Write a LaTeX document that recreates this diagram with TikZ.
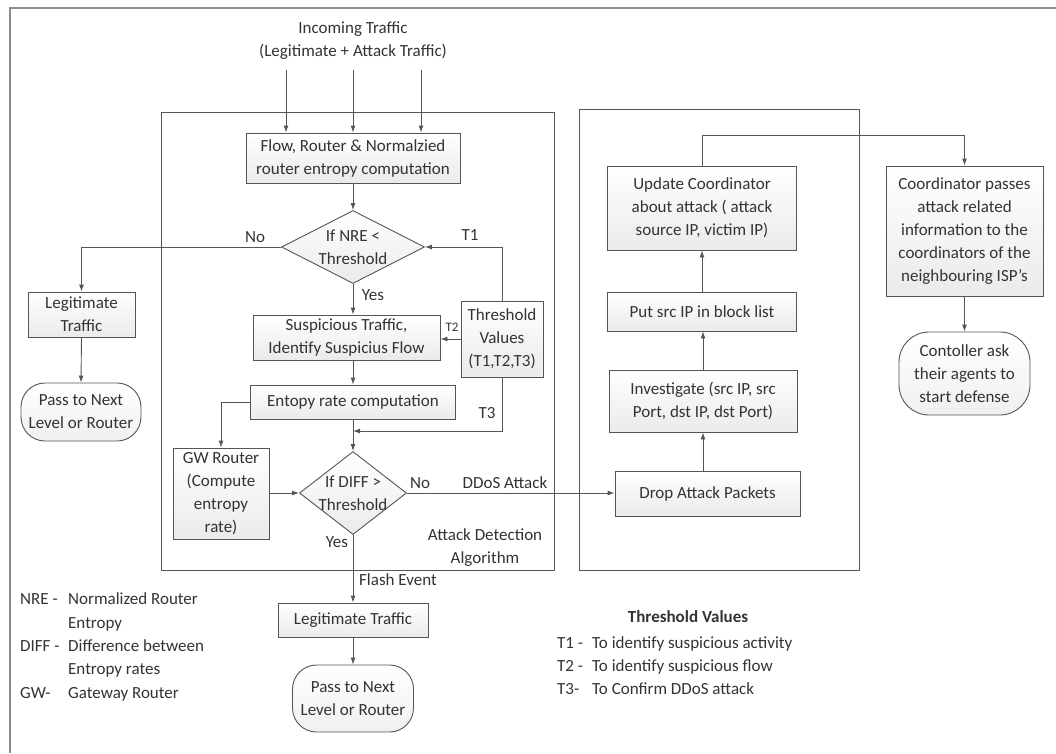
\documentclass[tikz,border=0pt]{standalone}
\usepackage{fontspec}
\setmainfont{Carlito}
\usetikzlibrary{arrows.meta,shapes.geometric,calc}
\definecolor{linec}{HTML}{555555}
\definecolor{txtc}{HTML}{333333}
\definecolor{framec}{HTML}{8C8C8C}
\newcommand{\mainfs}{\fontsize{17}{23}\selectfont}
\newcommand{\smallfs}{\fontsize{13}{15}\selectfont}
\tikzset{
  procbox/.style={draw=linec, line width=0.9pt, top color=white, bottom color=gray!16,
    align=center, inner sep=1pt, font=\mainfs, text=txtc},
  decbox/.style={draw=linec, line width=0.9pt, diamond, top color=white, bottom color=gray!16,
    inner sep=0pt},
  dectext/.style={align=center, inner sep=0pt, font=\mainfs, text=txtc},
  termbox/.style={draw=linec, line width=0.9pt, rounded corners=24pt, top color=white,
    bottom color=gray!12, align=center, inner sep=1pt, font=\mainfs, text=txtc},
  frame/.style={draw=linec, line width=0.9pt},
  conn/.style={draw=linec, line width=0.9pt},
  arr/.style={conn, -{Latex[length=7pt,width=5pt]}},
  lbl/.style={font=\mainfs, text=txtc, inner sep=0pt, align=center},
  lgd/.style={font=\mainfs, text=txtc, inner sep=0pt, anchor=base west},
}
\begin{document}
\begin{tikzpicture}[x=1pt, y=-1pt]
\useasboundingbox (0,0) rectangle (1056,753);

% page border
\draw[framec, line width=2pt] (10,753) -- (10,8) -- (1056,8);

% the two grouping frames
\draw[frame] (161,112) rectangle (554,570);
\draw[frame] (579,109) rectangle (859,570);

% incoming traffic
\node[lbl] (inc) at (353,41) {Incoming Traffic\\(Legitimate + Attack Traffic)};
\coordinate (in1) at (286,70);
\coordinate (in2) at (353,70);
\coordinate (in3) at (421,70);

% detection algorithm
\node[procbox, minimum width=214pt, minimum height=50pt] (flow) at (353,158)
  {Flow, Router \& Normalzied\\router entropy computation};
\node[decbox, minimum width=143pt, minimum height=73pt] (d1) at (353,247) {};
\node[dectext] (d1t) at (353,247) {If NRE <\\Threshold};
\node[procbox, minimum width=107pt, minimum height=45pt] (legit1) at (81.5,314.5)
  {Legitimate\\Traffic};
\node[termbox, minimum width=120pt, minimum height=58pt] (pass1) at (81,412)
  {Pass to Next\\Level or Router};
\node[procbox, minimum width=187pt, minimum height=45pt] (susp) at (346.5,337.5)
  {Suspicious Traffic,\\Identify Suspicius Flow};
\node[procbox, minimum width=82pt, minimum height=76pt] (thr) at (502,339)
  {Threshold\\Values\\(T1,T2,T3)};
\node[procbox, minimum width=205pt, minimum height=34pt] (entr) at (353,402)
  {Entopy rate computation};
\node[procbox, minimum width=96pt, minimum height=91pt] (gw) at (221,493.5)
  {GW Router\\(Compute\\entropy\\rate)};
\node[decbox, minimum width=107pt, minimum height=83pt] (d2) at (353,493) {};
\node[dectext] (d2t) at (353,493) {If DIFF >\\Threshold};
\node[procbox, minimum width=150pt, minimum height=34pt] (legit2) at (353,620)
  {Legitimate Traffic};
\node[termbox, minimum width=121pt, minimum height=67pt] (pass2) at (353,698.5)
  {Pass to Next\\Level or Router};

% mitigation
\node[procbox, minimum width=185pt, minimum height=45pt] (drop) at (707.5,493.5)
  {Drop Attack Packets};
\node[procbox, minimum width=188pt, minimum height=62pt] (inv) at (703,401)
  {Investigate (src IP, src\\Port, dst IP, dst Port)};
\node[procbox, minimum width=189pt, minimum height=39pt] (block) at (702,311.5)
  {Put src IP in block list};
\node[procbox, minimum width=189pt, minimum height=84pt] (upd) at (702,208)
  {Update Coordinator\\about attack ( attack\\source IP, victim IP)};
\node[procbox, minimum width=157pt, minimum height=130pt] (coord) at (964.5,231)
  {Coordinator passes\\attack related\\information to the\\coordinators of the\\neighbouring ISP's};
\node[termbox, rounded corners=30pt, minimum width=131pt, minimum height=83pt] (contr) at (964.5,373.5)
  {Contoller ask\\their agents to\\start defense};

% connectors
\draw[arr] (in1) -- (in1 |- flow.north);
\draw[arr] (in2) -- (in2 |- flow.north);
\draw[arr] (in3) -- (in3 |- flow.north);
\draw[arr] (flow.south) -- (d1.north);
\draw[arr] (d1.west) -| (legit1.north);
\draw[arr] (legit1.south) -- (pass1.north);
\draw[arr] (d1.south) -- (d1.south |- susp.north);
\draw[arr] (thr.north) |- (d1.east);
\draw[arr] (thr.west) -- (thr.west -| susp.east);
\draw[arr] (susp.south -| d1.south) -- (entr.north);
\coordinate (j3) at (353,431);
\draw[arr] (thr.south) |- (j3);
\draw[arr] (entr.south) -- (d2.north);
\draw[arr] (entr.west) -| (gw.north);
\draw[arr] (gw.east |- d2.west) -- (d2.west);
\draw[arr] (d2.east) -- (d2.east -| drop.west);
\draw[arr] (d2.south) -- (legit2.north);
\draw[arr] (legit2.south) -- (pass2.north);
\draw[arr] (inv.south |- drop.north) -- (inv.south);
\draw[arr] (inv.north) -- (inv.north |- block.south);
\draw[arr] (block.north) -- (upd.south);
\draw[arr] (upd.north) -- ++(0,-30) -| (coord.north);
\draw[arr] (coord.south) -- (contr.north);

% connector labels
\node[lbl] (lno1) at (255,237) {No};
\node[lbl] (lyes1) at (373,295) {Yes};
\node[lbl] (lt1) at (470,235) {T1};
\node[lbl, font=\smallfs] (lt2) at (452,327) {T2};
\node[lbl] (lt3) at (487,413) {T3};
\node[lbl] (lno2) at (420,483) {No};
\node[lbl] (lddos) at (505,483) {DDoS Attack};
\node[lbl] (lyes2) at (337,542) {Yes};
\node[lbl] (lflash) at (398,580) {Flash Event};
\node[lbl] (lada) at (485,548) {Attack Detection\\Algorithm};

% abbreviations
\node[lgd] (a1) at (20,604) {NRE -};
\node[lgd] (a2) at (68,604) {Normalized Router};
\node[lgd] (a3) at (68,628) {Entropy};
\node[lgd] (a4) at (20,651) {DIFF -};
\node[lgd] (a5) at (68,651) {Difference between};
\node[lgd] (a6) at (68,674) {Entropy rates};
\node[lgd] (a7) at (20,698) {GW-};
\node[lgd] (a8) at (68,698) {Gateway Router};

% threshold legend
\node[lbl, font=\mainfs\bfseries] (tv) at (688,617) {Threshold Values};
\node[lgd] (b1) at (557,648) {T1 -};
\node[lgd] (b2) at (592,648) {To identify suspicious activity};
\node[lgd] (b3) at (557,671) {T2 -};
\node[lgd] (b4) at (592,671) {To identify suspicious flow};
\node[lgd] (b5) at (557,694) {T3-};
\node[lgd] (b6) at (592,694) {To Confirm DDoS attack};
\end{tikzpicture}
\end{document}
